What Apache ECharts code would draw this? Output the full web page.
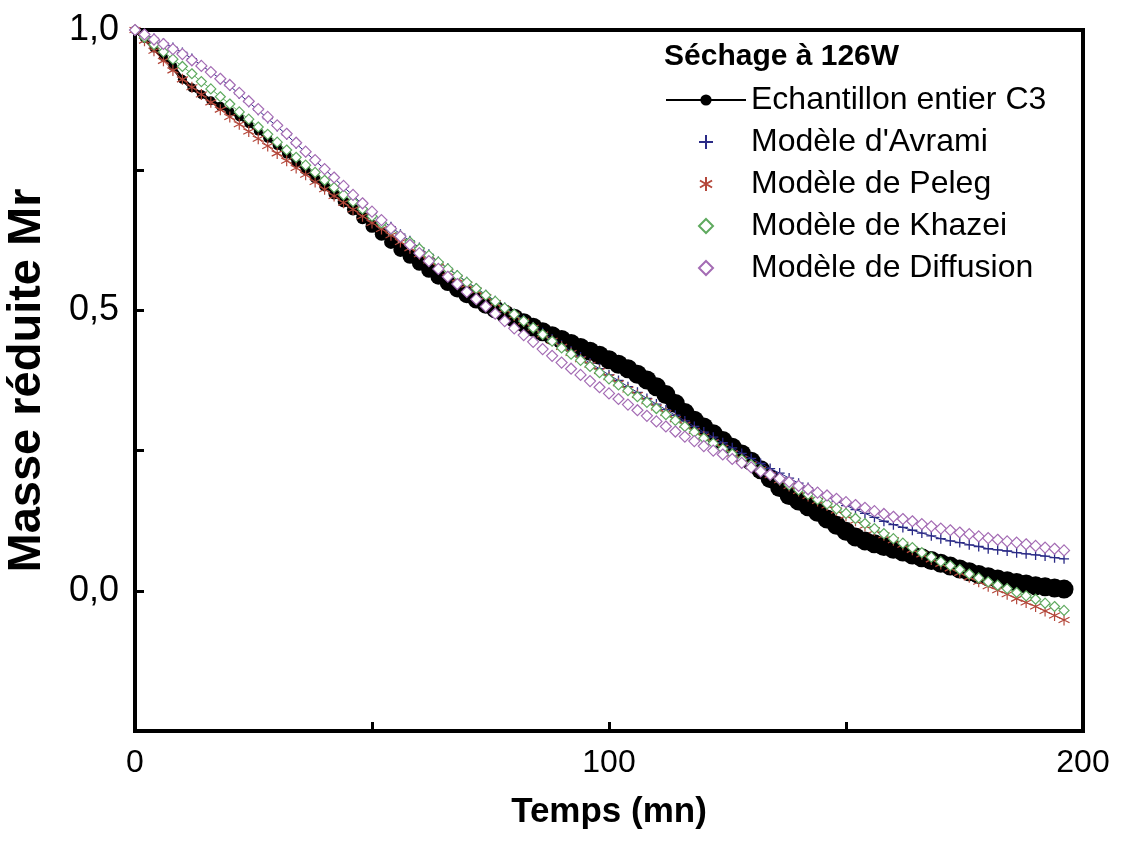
<!DOCTYPE html>
<html>
<head>
<meta charset="utf-8">
<script src="https://cdn.jsdelivr.net/npm/echarts@6/dist/echarts.min.js"></script>
<style>
html,body{margin:0;padding:0;background:#fff;}
#chart{width:1130px;height:850px;}
</style>
</head>
<body>
<div id="chart"></div>
<script>
// Time (mn)
var time = [0,2,4,6,8,10,12,14,16,18,20,22,24,26,28,30,32,34,36,38,40,42,44,46,48,50,52,54,56,58,60,62,64,66,68,70,72,74,76,78,80,82,84,86,88,90,92,94,96,98,100,102,104,106,108,110,112,114,116,118,120,122,124,126,128,130,132,134,136,138,140,142,144,146,148,150,152,154,156,158,160,162,164,166,168,170,172,174,176,178,180,182,184,186,188,190,192,194,196];

// Echantillon entier C3 (experimental)
var expMr = [1.000,0.985,0.968,0.952,0.935,0.912,0.897,0.885,0.874,0.864,
0.855,0.845,0.833,0.820,0.807,0.794,0.779,0.764,0.750,0.736,
0.722,0.708,0.694,0.680,0.665,0.650,0.636,0.622,0.608,0.596,
0.584,0.572,0.560,0.549,0.538,0.528,0.519,0.510,0.502,0.494,
0.486,0.478,0.470,0.462,0.455,0.448,0.441,0.434,0.427,0.420,
0.412,0.404,0.396,0.386,0.376,0.364,0.350,0.334,0.318,0.304,
0.292,0.280,0.268,0.256,0.244,0.231,0.216,0.200,0.184,0.170,
0.160,0.150,0.140,0.128,0.117,0.106,0.096,0.089,0.084,0.079,
0.074,0.069,0.064,0.059,0.054,0.049,0.044,0.039,0.034,0.029,
0.025,0.021,0.018,0.015,0.012,0.009,0.007,0.005,0.003];

// Modèle d'Avrami
var avramiMr = [1.000,0.993,0.985,0.977,0.969,0.960,0.949,0.937,0.925,0.913,
0.900,0.886,0.871,0.857,0.842,0.828,0.813,0.797,0.782,0.767,
0.752,0.736,0.720,0.705,0.689,0.674,0.661,0.649,0.636,0.624,
0.612,0.600,0.587,0.575,0.563,0.551,0.540,0.528,0.517,0.505,
0.494,0.483,0.471,0.460,0.449,0.438,0.427,0.417,0.406,0.396,
0.385,0.375,0.364,0.354,0.343,0.333,0.323,0.313,0.303,0.293,
0.283,0.274,0.264,0.255,0.245,0.236,0.227,0.218,0.210,0.201,
0.192,0.184,0.176,0.168,0.160,0.152,0.145,0.138,0.131,0.124,
0.118,0.113,0.108,0.103,0.098,0.093,0.089,0.086,0.082,0.079,
0.075,0.073,0.071,0.068,0.066,0.064,0.062,0.059,0.057];

// Modèle de Peleg
var pelegMr = [1.000,0.981,0.963,0.945,0.928,0.912,0.898,0.885,0.871,0.858,
0.845,0.832,0.819,0.806,0.793,0.780,0.767,0.754,0.742,0.729,
0.716,0.704,0.692,0.680,0.668,0.656,0.645,0.634,0.622,0.611,
0.600,0.589,0.578,0.568,0.557,0.546,0.535,0.524,0.513,0.502,
0.491,0.480,0.469,0.457,0.446,0.435,0.424,0.413,0.403,0.392,
0.381,0.370,0.359,0.349,0.338,0.327,0.317,0.306,0.296,0.285,
0.275,0.265,0.255,0.245,0.235,0.225,0.216,0.206,0.197,0.187,
0.178,0.169,0.160,0.152,0.143,0.134,0.125,0.116,0.108,0.099,
0.090,0.082,0.073,0.065,0.056,0.048,0.040,0.032,0.024,0.016,
0.008,0.001,-0.006,-0.014,-0.021,-0.028,-0.036,-0.044,-0.052];

// Modèle de Khazei
var khazeiMr = [1.000,0.987,0.974,0.961,0.948,0.935,0.922,0.908,0.895,0.881,
0.868,0.854,0.841,0.827,0.814,0.800,0.786,0.773,0.759,0.746,
0.732,0.719,0.706,0.694,0.681,0.668,0.656,0.645,0.633,0.622,
0.610,0.598,0.586,0.574,0.562,0.550,0.539,0.527,0.516,0.504,
0.493,0.481,0.469,0.457,0.445,0.433,0.422,0.411,0.400,0.389,
0.378,0.367,0.357,0.346,0.336,0.325,0.314,0.304,0.293,0.283,
0.272,0.263,0.253,0.244,0.234,0.225,0.216,0.207,0.198,0.189,
0.180,0.172,0.163,0.155,0.146,0.138,0.129,0.120,0.111,0.102,
0.093,0.085,0.077,0.068,0.060,0.052,0.045,0.038,0.030,0.023,
0.016,0.010,0.004,-0.003,-0.009,-0.015,-0.022,-0.028,-0.035];

// Modèle de Diffusion
var diffusionMr = [1.000,0.992,0.983,0.975,0.966,0.957,0.946,0.936,0.925,0.913,
0.902,0.888,0.873,0.859,0.845,0.830,0.815,0.799,0.783,0.768,
0.752,0.737,0.722,0.706,0.691,0.676,0.661,0.646,0.632,0.617,
0.602,0.588,0.574,0.560,0.547,0.533,0.520,0.507,0.494,0.481,
0.468,0.456,0.444,0.431,0.419,0.407,0.396,0.385,0.374,0.363,
0.352,0.342,0.332,0.322,0.312,0.302,0.293,0.284,0.275,0.267,
0.258,0.250,0.243,0.235,0.228,0.220,0.213,0.207,0.200,0.194,
0.187,0.181,0.175,0.170,0.164,0.158,0.153,0.148,0.142,0.137,
0.132,0.128,0.124,0.119,0.115,0.111,0.108,0.104,0.101,0.097,
0.094,0.091,0.088,0.086,0.083,0.080,0.077,0.075,0.072];

var xTickLabels = [0, 100, 200];
var yTickLabels = [0, 0.5, 1.0];

var names = ['Echantillon entier C3', "Modèle d'Avrami", 'Modèle de Peleg', 'Modèle de Khazei', 'Modèle de Diffusion'];

function pairs(arr){ return time.map(function(t,i){ return [t, arr[i]]; }); }

var FONT = '"Liberation Sans", Arial, Helvetica, sans-serif';
var plusPath = 'path://M5,0L5,10M0,5L10,5';
var starPath = 'path://M5,0L5,10M0.67,2.5L9.33,7.5M0.67,7.5L9.33,2.5';
var diamondPath = 'path://M5,0L10,5L5,10L0,5Z';

var cA = '#2a2a86', cP = '#b4473a', cK = '#5faa5f', cD = '#a46cb4';

var chart = echarts.init(document.getElementById('chart'), null, {renderer:'canvas'});
chart.setOption({
  animation: false,
  backgroundColor: '#fff',
  title: {
    text: 'Séchage à 126W',
    left: 664, top: 42, padding: 0,
    textStyle: {fontFamily: FONT, fontSize: 30, fontWeight: 'bold', color: '#000'}
  },
  legend: {
    orient: 'vertical',
    left: 665, top: 83, padding: 0,
    itemWidth: 80, itemHeight: 14, itemGap: 8,
    symbolKeepAspect: true,
    textStyle: {fontFamily: FONT, fontSize: 32, color: '#000', lineHeight: 34},
    data: [
      {name: names[0]},
      {name: names[1], icon: plusPath},
      {name: names[2], icon: starPath},
      {name: names[3], icon: diamondPath},
      {name: names[4], icon: diamondPath}
    ]
  },
  grid: {
    left: 135, top: 30, right: 47, bottom: 119,
    outerBoundsMode: 'none', containLabel: false,
    show: true, borderColor: '#000', borderWidth: 4, backgroundColor: 'transparent'
  },
  xAxis: {
    type: 'value', min: 0, max: 200, interval: 50,
    axisLine: {show: true, onZero: false, lineStyle: {color: '#000', width: 4}},
    axisTick: {show: true, inside: true, length: 9, lineStyle: {color: '#000', width: 3}},
    splitLine: {show: false},
    axisLabel: {
      margin: 16, fontFamily: FONT, fontSize: 32, color: '#000',
      formatter: function(v){ return xTickLabels.indexOf(v) >= 0 ? String(v) : ''; }
    },
    name: 'Temps (mn)', nameLocation: 'middle', nameGap: 64,
    nameTextStyle: {fontFamily: FONT, fontSize: 35, fontWeight: 'bold', color: '#000'}
  },
  yAxis: {
    type: 'value', min: -0.25, max: 1.0, interval: 0.25,
    axisLine: {show: true, onZero: false, lineStyle: {color: '#000', width: 4}},
    axisTick: {show: true, inside: true, length: 9, lineStyle: {color: '#000', width: 3}},
    splitLine: {show: false},
    axisLabel: {
      margin: 16, fontFamily: FONT, fontSize: 36, color: '#000',
      formatter: function(v){
        for (var i = 0; i < yTickLabels.length; i++) {
          if (Math.abs(v - yTickLabels[i]) < 1e-9) return yTickLabels[i].toFixed(1).replace('.', ',');
        }
        return '';
      }
    },
    name: 'Masse réduite Mr', nameLocation: 'middle', nameGap: 84,
    nameTextStyle: {fontFamily: FONT, fontSize: 47, fontWeight: 'bold', color: '#000'}
  },
  series: [
    {
      name: names[0], type: 'line', data: pairs(expMr),
      symbol: 'circle',
      symbolSize: function(v){ var t = v[0]; var k = Math.max(0, Math.min(1, (t - 30) / 50)); return 9 + 10 * k; },
      itemStyle: {color: '#000'},
      lineStyle: {color: '#000', width: 4},
      z: 2
    },
    {
      name: names[1], type: 'line', data: pairs(avramiMr),
      symbol: plusPath, symbolSize: 10,
      itemStyle: {color: 'rgba(0,0,0,0)', borderColor: cA, borderWidth: 1.3},
      lineStyle: {color: cA, width: 1},
      z: 3
    },
    {
      name: names[2], type: 'line', data: pairs(pelegMr),
      symbol: starPath, symbolSize: 11,
      itemStyle: {color: 'rgba(0,0,0,0)', borderColor: cP, borderWidth: 1.2},
      lineStyle: {color: cP, width: 1},
      z: 4
    },
    {
      name: names[3], type: 'line', data: pairs(khazeiMr),
      symbol: 'diamond', symbolSize: 10,
      itemStyle: {color: '#fff', borderColor: cK, borderWidth: 1.2},
      lineStyle: {color: cK, width: 1},
      z: 5
    },
    {
      name: names[4], type: 'line', data: pairs(diffusionMr),
      symbol: 'diamond', symbolSize: 11,
      itemStyle: {color: '#fff', borderColor: cD, borderWidth: 1.2},
      lineStyle: {color: cD, width: 0},
      z: 6
    }
  ]
});
</script>
</body>
</html>
